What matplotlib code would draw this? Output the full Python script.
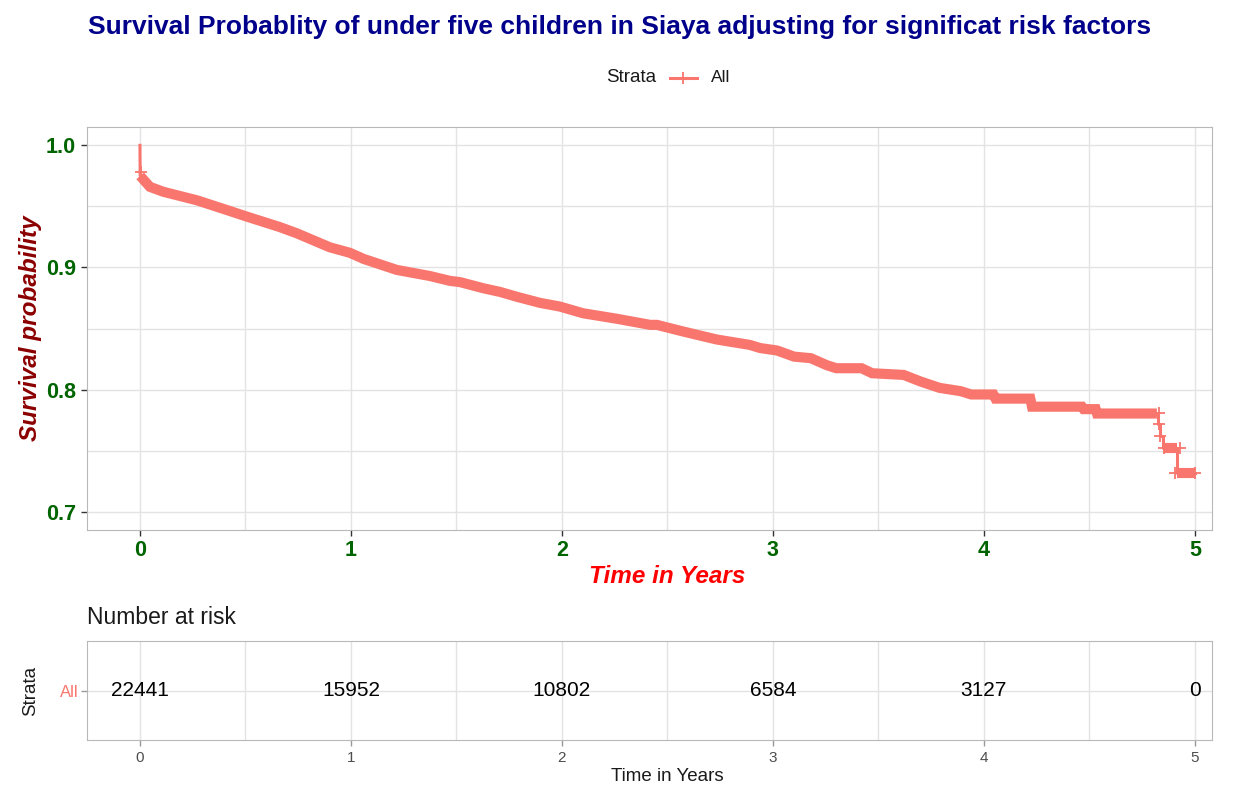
import numpy as np
import matplotlib
matplotlib.use("Agg")
import matplotlib.pyplot as plt
from matplotlib.lines import Line2D
from matplotlib.ticker import MultipleLocator

plt.rcParams['font.family'] = ['Liberation Sans', 'DejaVu Sans']

# Kaplan-Meier estimate (time in years, survival) - dense part of the curve
km_time = [0.0, 0.001, 0.047, 0.11, 0.27, 0.43, 0.50, 0.664, 0.743, 0.90, 0.995,
           1.06, 1.217, 1.374, 1.47, 1.517, 1.627, 1.706, 1.786, 1.896, 1.99,
           2.10, 2.26, 2.418, 2.45, 2.576, 2.734, 2.89, 2.94, 3.02, 3.10, 3.18,
           3.255, 3.30, 3.42, 3.47, 3.62, 3.70, 3.79, 3.89, 3.94, 4.045, 4.055,
           4.22, 4.228, 4.465, 4.473, 4.53, 4.536, 4.82]
km_surv = [1.0, 0.975, 0.966, 0.962, 0.955, 0.946, 0.942, 0.933, 0.928, 0.9165, 0.912,
           0.907, 0.898, 0.893, 0.889, 0.888, 0.883, 0.880, 0.876, 0.871, 0.868,
           0.8625, 0.858, 0.853, 0.853, 0.8475, 0.841, 0.8366, 0.834, 0.832, 0.827, 0.8257,
           0.820, 0.8175, 0.8175, 0.8134, 0.812, 0.8066, 0.8014, 0.7987, 0.796, 0.796, 0.7926,
           0.7926, 0.786, 0.786, 0.784, 0.784, 0.7804, 0.7804]

# tail of the curve, where single steps are visible
tail_time = [4.82, 4.825, 4.835, 4.848, 4.915, 5.0]
tail_surv = [0.7804, 0.7717, 0.7616, 0.752, 0.7316, 0.7316]

# censoring marks
cens_time = [0.005, 4.828, 4.830, 4.836, 4.852, 4.931, 4.907, 5.0]
cens_surv = [0.978, 0.7807, 0.7717, 0.7616, 0.752, 0.752, 0.7316, 0.7316]

risk_time = [0, 1, 2, 3, 4, 5]
risk_n = [22441, 15952, 10802, 6584, 3127, 0]

col = "#F8766D"
grid_col = "#e3e3e3"
border_col = "#b8b8b8"

fig = plt.figure(figsize=(12.41, 7.85), dpi=100)
ax = fig.add_axes([0.0701, 0.3248, 0.9065, 0.5134])
ax_r = fig.add_axes([0.0701, 0.0573, 0.9065, 0.1261])

# main survival curve: thin line plus the thick band left by the dense censoring marks
ax.plot(km_time, km_surv, color=col, lw=2.2, zorder=3)
ax.plot(km_time[1:], km_surv[1:], color=col, lw=7.3,
        solid_capstyle="butt", solid_joinstyle="miter", zorder=3)
ax.step(tail_time, tail_surv, where="post", color=col, lw=2.2, zorder=3)
ax.plot([4.848, 4.915], [0.752, 0.752], color=col, lw=7.3, solid_capstyle="butt", zorder=3)
ax.plot([4.915, 5.0], [0.7316, 0.7316], color=col, lw=7.3, solid_capstyle="butt", zorder=3)
ax.plot(cens_time, cens_surv, ls="none", marker="+", color=col, ms=9, mew=1.3, zorder=4)

ax.set_xlim(-0.251, 5.081)
ax.set_ylim(0.685, 1.015)
ax.xaxis.set_major_locator(MultipleLocator(1))
ax.xaxis.set_minor_locator(MultipleLocator(0.5))
ax.yaxis.set_minor_locator(MultipleLocator(0.05))
ax.set_yticks([0.7, 0.8, 0.9, 1.0])
ax.set_yticklabels(["0.7", "0.8", "0.9", "1.0"])
ax.grid(True, which="both", color=grid_col, lw=1.0, zorder=0)
ax.tick_params(which="minor", length=0)
ax.tick_params(which="major", length=4, width=1, color="#333333", pad=4)
ax.tick_params(axis="x", pad=3)
for lab in ax.get_xticklabels() + ax.get_yticklabels():
    lab.set_color("#006400")
    lab.set_fontweight("bold")
    lab.set_fontsize(15.5)
for sp in ax.spines.values():
    sp.set_color(border_col)
ax.set_xlabel("Time in Years", color="#FF0000", fontsize=17.5, fontweight="bold",
              fontstyle="italic")
ax.xaxis.set_label_coords(0.516, -0.088)
ax.set_ylabel("Survival probability", color="#8B0000", fontsize=17.5, fontweight="bold",
              fontstyle="italic", labelpad=3)

fig.text(0.0709, 0.966, "Survival Probablity of under five children in Siaya adjusting for significat risk factors",
         color="#00008B", fontsize=19, fontweight="bold", ha="left", va="center")

# legend
fig.text(0.5290, 0.901, "Strata", fontsize=13.5, color="#1a1a1a", ha="right", va="center")
fig.add_artist(Line2D([0.5399, 0.5616], [0.901, 0.901], color=col, lw=2.2,
                      transform=fig.transFigure))
fig.add_artist(Line2D([0.5507], [0.901], color=col, marker="+", ms=9, mew=1.3,
                      transform=fig.transFigure))
fig.text(0.5729, 0.901, "All", fontsize=12.5, color="#1a1a1a", ha="left", va="center")

# number at risk table
for t, n in zip(risk_time, risk_n):
    ax_r.text(t, 0.5, str(n), fontsize=15, ha="center", va="center", color="black")
ax_r.set_xlim(-0.251, 5.081)
ax_r.set_ylim(0, 1)
ax_r.xaxis.set_major_locator(MultipleLocator(1))
ax_r.xaxis.set_minor_locator(MultipleLocator(0.5))
ax_r.set_yticks([0.5])
ax_r.set_yticklabels(["All"])
ax_r.grid(True, which="both", color=grid_col, lw=1.0, zorder=0)
ax_r.tick_params(which="minor", length=0)
ax_r.tick_params(which="major", length=4, width=1, color="#999999", pad=4,
                 labelsize=11, labelcolor="#4d4d4d")
ax_r.tick_params(axis="y", labelcolor=col, labelsize=12, pad=2)
for sp in ax_r.spines.values():
    sp.set_color(border_col)
ax_r.set_xlabel("Time in Years", fontsize=13.5, color="#1a1a1a")
ax_r.xaxis.set_label_coords(0.516, -0.285)
ax_r.set_ylabel("Strata", fontsize=13.5, color="#1a1a1a", labelpad=15)
ax_r.set_title("Number at risk", fontsize=16.5, color="#1a1a1a", loc="left", pad=12, x=0.0)

fig.savefig("out.png", dpi=100)
